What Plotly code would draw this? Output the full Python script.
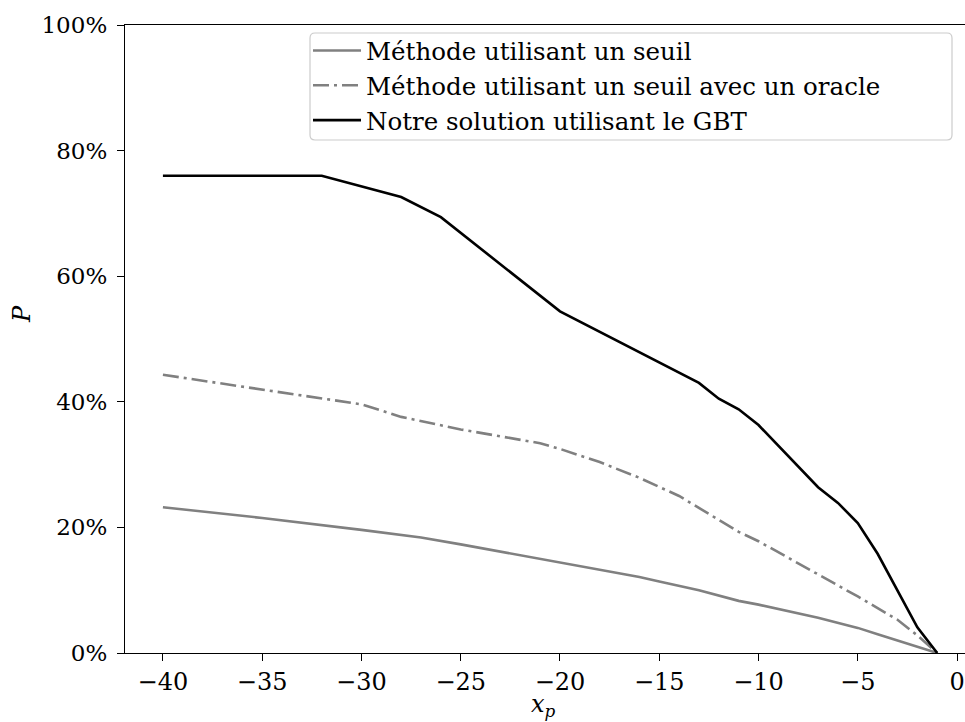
import plotly.graph_objects as go

# Data (x_p, P in %)
x_seuil = [-40, -35, -30, -27, -25, -21, -20, -16, -15, -13, -11, -10, -7, -6, -5, -4, -3, -2, -1]
p_seuil = [23.2, 21.5, 19.6, 18.4, 17.3, 15.0, 14.4, 12.1, 11.4, 10.0, 8.3, 7.7, 5.6, 4.8, 4.0, 3.0, 2.0, 1.0, 0.0]

x_oracle = [-40, -35, -30, -28, -25, -21, -20, -18, -16, -14, -11, -10, -7, -6, -5, -3, -2, -1]
p_oracle = [44.3, 41.9, 39.6, 37.6, 35.6, 33.4, 32.5, 30.4, 27.9, 25.0, 19.3, 17.8, 12.6, 10.8, 9.0, 5.3, 2.8, 0.0]

x_gbt = [-40, -32, -28, -26, -20, -13, -12, -11, -10, -7, -6, -5, -4, -3, -2, -1]
p_gbt = [76.0, 76.0, 72.6, 69.4, 54.4, 43.0, 40.5, 38.8, 36.3, 26.4, 23.9, 20.7, 15.8, 10.0, 4.1, 0.0]

names = ["Méthode utilisant un seuil",
         "Méthode utilisant un seuil avec un oracle",
         "Notre solution utilisant le GBT"]

y_ticks = [0, 20, 40, 60, 80, 100]
y_ticklabels = ["0%", "20%", "40%", "60%", "80%", "100%"]
x_ticks = [-40, -35, -30, -25, -20, -15, -10, -5, 0]

FONT = "DejaVu Serif"

L, R, T, B = 125, 0, 25, 69
W, H = 965, 722
pw, ph = W - L - R, H - T - B


def px_x(v):
    return (v - L) / pw


def px_y(v):
    return (H - B - v) / ph


# rounded legend frame (pixel geometry converted to paper coordinates)
bx0, bx1, by0, by1, rad = 310, 952, 33, 140, 5


def pt(x, y):
    return f"{px_x(x):.5f},{px_y(y):.5f}"


frame_path = (
    f"M {pt(bx0 + rad, by0)} L {pt(bx1 - rad, by0)} Q {pt(bx1, by0)} {pt(bx1, by0 + rad)} "
    f"L {pt(bx1, by1 - rad)} Q {pt(bx1, by1)} {pt(bx1 - rad, by1)} "
    f"L {pt(bx0 + rad, by1)} Q {pt(bx0, by1)} {pt(bx0, by1 - rad)} "
    f"L {pt(bx0, by0 + rad)} Q {pt(bx0, by0)} {pt(bx0 + rad, by0)} Z"
)

fig = go.Figure()
fig.add_trace(go.Scatter(x=x_seuil, y=p_seuil, mode="lines", name=names[0],
                         line=dict(color="#808080", width=2.6)))
fig.add_trace(go.Scatter(x=x_oracle, y=p_oracle, mode="lines", name=names[1],
                         line=dict(color="#808080", width=2.6, dash="16px,5px,3px,5px")))
fig.add_trace(go.Scatter(x=x_gbt, y=p_gbt, mode="lines", name=names[2],
                         line=dict(color="black", width=2.6)))

fig.update_layout(
    width=W, height=H,
    margin=dict(l=L, r=R, t=T, b=B),
    paper_bgcolor="white", plot_bgcolor="white",
    font=dict(family=FONT, size=24, color="black"),
    showlegend=True,
    legend=dict(x=px_x(308), y=px_y(28), xanchor="left", yanchor="top",
                bgcolor="rgba(0,0,0,0)", borderwidth=0,
                font=dict(family=FONT, size=24.5, color="black"),
                tracegroupgap=0, itemwidth=48),
    shapes=[dict(type="path", path=frame_path, xref="paper", yref="paper",
                 fillcolor="white", line=dict(color="#cccccc", width=1.2),
                 layer="above")],
    xaxis=dict(range=[-41.91, 0.40], tickmode="array", tickvals=x_ticks,
               showgrid=False, zeroline=False, showline=True, linecolor="black",
               linewidth=1.3, mirror=True, ticks="outside", ticklen=7,
               tickwidth=1.2, tickcolor="black",
               tickfont=dict(family=FONT, size=24, color="black")),
    yaxis=dict(range=[0, 100], tickmode="array", tickvals=y_ticks,
               ticktext=y_ticklabels,
               showgrid=False, zeroline=False, showline=True, linecolor="black",
               linewidth=1.3, ticks="outside", ticklen=7,
               tickwidth=1.2, tickcolor="black", ticklabelstandoff=5,
               tickfont=dict(family=FONT, size=23, color="black")),
    annotations=[
        dict(text="<i>x</i><sub><i>p</i></sub>", x=px_x(543), y=px_y(705),
             xref="paper", yref="paper", xanchor="center", yanchor="middle",
             showarrow=False, font=dict(family=FONT, size=24, color="black")),
        dict(text="<i>P</i>", x=px_x(22), y=px_y(314),
             xref="paper", yref="paper", xanchor="center", yanchor="middle",
             showarrow=False, textangle=-90,
             font=dict(family=FONT, size=24, color="black")),
    ],
)

fig.write_html("out.html")
